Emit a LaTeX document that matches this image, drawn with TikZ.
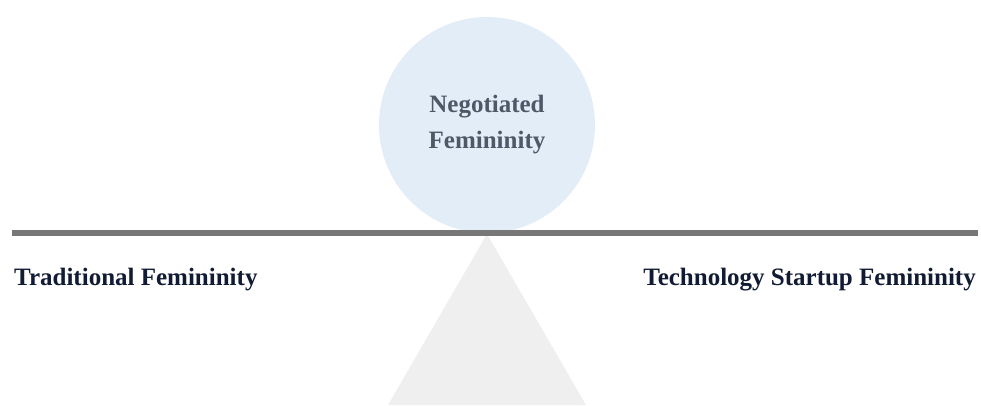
\documentclass[tikz,border=0pt]{standalone}
\usepackage{fontspec}
\setmainfont{Liberation Serif}
\definecolor{beamgray}{HTML}{777777}
\definecolor{pivotgray}{HTML}{EFEFEF}
\definecolor{ballblue}{HTML}{E3EDF8}
\definecolor{ballink}{HTML}{4E5867}
\definecolor{sideink}{HTML}{111B33}
\begin{document}
\begin{tikzpicture}[x=1pt,y=-1pt,
        ball/.style={circle,fill=ballblue,minimum size=216pt,inner sep=0pt,
          align=center,text=ballink,font=\fontsize{25}{36}\selectfont\bfseries},
        side/.style={text=sideink,inner sep=0pt,font=\fontsize{25}{28}\selectfont\bfseries}]
        \useasboundingbox (0,0) rectangle (981,405);
        % pivot under the beam
        \coordinate (tip) at (487,234);
        \coordinate (baseL) at (388,405);
        \coordinate (baseR) at (586,405);
        \fill[pivotgray] (tip) -- (baseR) -- (baseL) -- cycle;
        % the ball resting on the beam
        \node[ball] (neg) at (487,125) {Negotiated\\Femininity};
        % beam
        \coordinate (beamL) at (12,233);
        \coordinate (beamR) at (978,233);
        \draw[beamgray,line width=6pt] (beamL) -- (beamR);
        % both ends
        \node[side,anchor=base west] (trad) at (14,285) {Traditional Femininity};
        \node[side,anchor=base east] (tech) at (976,285) {Technology Startup Femininity};
      \end{tikzpicture}
\end{document}
